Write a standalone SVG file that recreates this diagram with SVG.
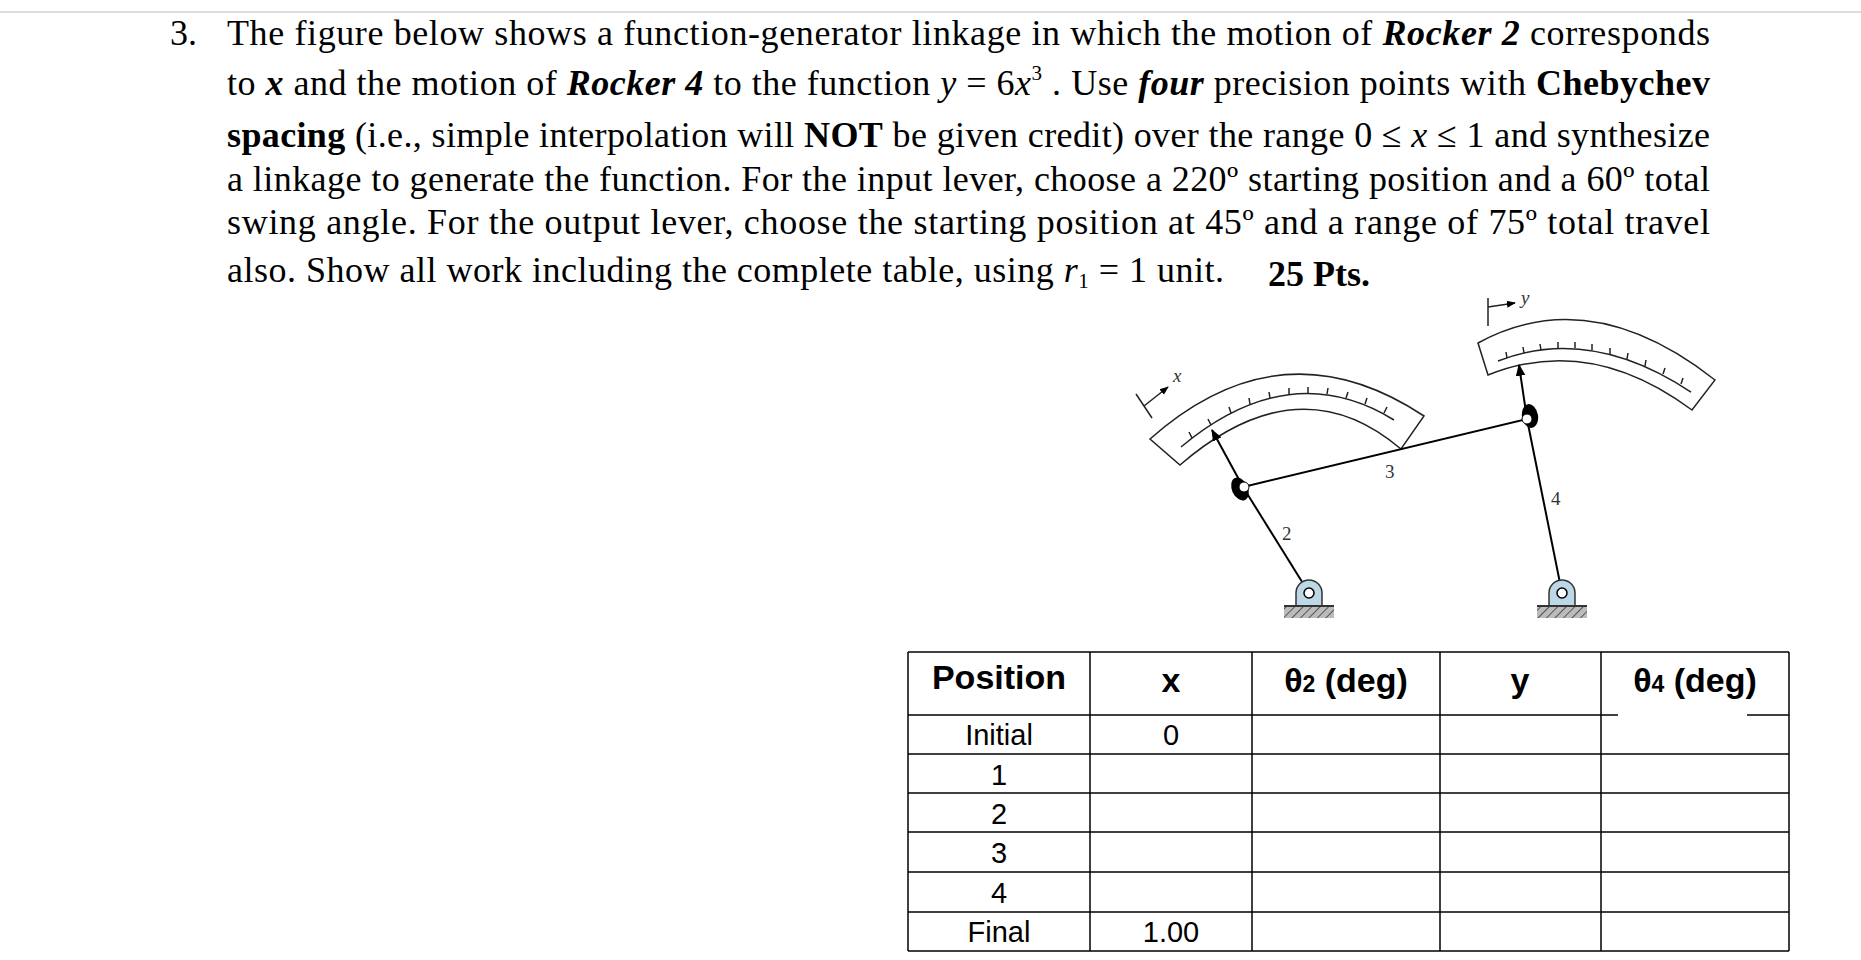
<svg xmlns="http://www.w3.org/2000/svg" width="1861" height="960" viewBox="0 0 1861 960">
<style>
.p{font-family:"Liberation Serif","Times New Roman",serif;font-size:36px;fill:#000}
.b{font-weight:bold}.i{font-style:italic}
.t{font-family:"Liberation Sans",Arial,sans-serif;font-size:29px;fill:#000;text-anchor:middle}
.h{font-weight:bold;font-size:34px}
.ln{stroke:#000;stroke-width:2;fill:none}
.thin{stroke:#222;stroke-width:1.5;fill:none}
.lbl{font-family:"Liberation Serif",serif;font-size:19px;fill:#333}
.grid{stroke:#000;stroke-width:1.5}
</style>
<defs>
<marker id="ar" viewBox="0 0 10 10" refX="9" refY="5" markerWidth="6" markerHeight="6" orient="auto"><path d="M0,1 L10,5 L0,9 z" fill="#000"/></marker>
<pattern id="hat" width="6" height="6" patternUnits="userSpaceOnUse" patternTransform="rotate(45)"><rect width="6" height="6" fill="#bbb"/><line x1="0" y1="0" x2="0" y2="6" stroke="#555" stroke-width="2"/></pattern>
</defs>
<rect width="1861" height="960" fill="#fff"/>
<line x1="0" y1="12" x2="1861" y2="12" stroke="#d0d0d0" stroke-width="1.5"/>

<g id="problem-text">
<text class="p" x="170" y="45">3.</text>
<text class="p" x="227" y="45" textLength="1483" lengthAdjust="spacing">The figure below shows a function-generator linkage in which the motion of <tspan class="b i">Rocker 2</tspan> corresponds</text>
<text class="p" x="227" y="95" textLength="1483" lengthAdjust="spacing">to <tspan class="b i">x</tspan> and the motion of <tspan class="b i">Rocker 4</tspan> to the function  <tspan class="i">y</tspan> = 6<tspan class="i">x</tspan><tspan font-size="21" dy="-15">3</tspan><tspan dy="15"> . Use </tspan><tspan class="b i">four</tspan> precision points with <tspan class="b">Chebychev</tspan></text>
<text class="p" x="227" y="147" textLength="1483" lengthAdjust="spacing"><tspan class="b">spacing</tspan> (i.e., simple interpolation will <tspan class="b">NOT</tspan> be given credit) over the range  0 ≤ <tspan class="i">x</tspan> ≤ 1 and synthesize</text>
<text class="p" x="227" y="191" textLength="1483" lengthAdjust="spacing">a linkage to generate the function. For the input lever, choose a 220º starting position and a 60º total</text>
<text class="p" x="227" y="234" textLength="1483" lengthAdjust="spacing">swing angle. For the output lever, choose the starting position at 45º and a range of 75º total travel</text>
<text class="p" x="227" y="282" textLength="997" lengthAdjust="spacing">also. Show all work including the complete table, using  <tspan class="i">r</tspan><tspan font-size="21" dy="6">1</tspan><tspan dy="-6"> = 1  unit.</tspan></text>
<text class="p b" x="1268" y="286" font-size="33">25 Pts.</text>
</g>

<g id="scale-x">
<path class="thin" d="M1150,439 Q1282,322 1424,416 L1401,449 Q1299,362 1180,465 Z" fill="#fff"/>
<path class="thin" d="M1181,447 Q1290,356 1394,420"/>
<g class="thin">
<line x1="1192" y1="438" x2="1189" y2="432"/><line x1="1211" y1="425" x2="1208" y2="419"/><line x1="1231" y1="413" x2="1229" y2="407"/><line x1="1250" y1="404" x2="1249" y2="398"/><line x1="1270" y1="398" x2="1269" y2="392"/><line x1="1289" y1="394" x2="1289" y2="388"/><line x1="1308" y1="393" x2="1308" y2="387"/><line x1="1327" y1="394" x2="1328" y2="388"/><line x1="1346" y1="398" x2="1348" y2="392"/><line x1="1365" y1="404" x2="1367" y2="398"/><line x1="1384" y1="413" x2="1387" y2="407"/>
</g>
<line class="thin" x1="1136" y1="394" x2="1152" y2="418"/>
<line class="thin" x1="1144" y1="406" x2="1168" y2="387" marker-end="url(#ar)"/>
<text class="lbl" x="1173" y="382" font-style="italic">x</text>
</g>

<g id="scale-y">
<path class="thin" d="M1478,343 Q1590,282 1715,380 L1692,410 Q1590,334 1488,375 Z" fill="#fff"/>
<path class="thin" d="M1498,361 Q1590,325 1691,392"/>
<g class="thin">
<line x1="1507" y1="358" x2="1506" y2="352"/><line x1="1524" y1="353" x2="1523" y2="347"/><line x1="1541" y1="350" x2="1540" y2="344"/><line x1="1558" y1="348" x2="1558" y2="342"/><line x1="1575" y1="348" x2="1575" y2="342"/><line x1="1592" y1="350" x2="1592" y2="344"/><line x1="1610" y1="354" x2="1610" y2="348"/><line x1="1627" y1="359" x2="1628" y2="353"/><line x1="1645" y1="366" x2="1646" y2="360"/><line x1="1663" y1="374" x2="1665" y2="368"/><line x1="1681" y1="384" x2="1683" y2="378"/>
</g>
<line class="thin" x1="1488" y1="298" x2="1488" y2="326"/>
<line class="thin" x1="1488" y1="307" x2="1515" y2="303" marker-end="url(#ar)"/>
<text class="lbl" x="1521" y="304" font-style="italic">y</text>
</g>

<g id="connectors">
<line class="ln" x1="1309" y1="593" x2="1243" y2="487"/>
<line class="ln" x1="1243" y1="487" x2="1212" y2="430" marker-end="url(#ar)"/>
<line class="ln" x1="1243" y1="487" x2="1527" y2="419"/>
<line class="ln" x1="1562" y1="593" x2="1527" y2="419"/>
<line class="ln" x1="1527" y1="419" x2="1519" y2="365" marker-end="url(#ar)"/>
</g>

<g id="link-labels">
<text class="lbl" x="1385" y="478">3</text>
<text class="lbl" x="1282" y="540">2</text>
<text class="lbl" x="1551" y="505">4</text>
</g>

<g id="joint-2"><ellipse cx="1240" cy="489" rx="8" ry="12" fill="#000" transform="rotate(-25 1240 489)"/><circle cx="1244" cy="487" r="5" fill="#fff" stroke="#000"/></g>
<g id="joint-4"><ellipse cx="1530" cy="416" rx="8" ry="12" fill="#000" transform="rotate(-10 1530 416)"/><circle cx="1527" cy="419" r="5" fill="#fff" stroke="#000"/></g>

<g id="ground-2">
<path d="M1296,606 L1296,593 A13,13 0 0 1 1322,593 L1322,606 Z" fill="#bcd7e6" stroke="#333" stroke-width="1.5"/>
<circle cx="1309" cy="593" r="5" fill="#fff" stroke="#000" stroke-width="1.5"/>
<line x1="1284" y1="606" x2="1334" y2="606" stroke="#333" stroke-width="2"/>
<rect x="1284" y="607" width="50" height="11" fill="url(#hat)"/>
</g>
<g id="ground-4">
<path d="M1549,606 L1549,593 A13,13 0 0 1 1575,593 L1575,606 Z" fill="#bcd7e6" stroke="#333" stroke-width="1.5"/>
<circle cx="1562" cy="593" r="5" fill="#fff" stroke="#000" stroke-width="1.5"/>
<line x1="1537" y1="606" x2="1587" y2="606" stroke="#333" stroke-width="2"/>
<rect x="1537" y="607" width="50" height="11" fill="url(#hat)"/>
</g>

<g id="table">
<g class="grid">
<line x1="908" y1="652" x2="1789" y2="652"/>
<line x1="908" y1="715" x2="1618" y2="715"/><line x1="1747" y1="715" x2="1789" y2="715"/>
<line x1="908" y1="754" x2="1789" y2="754"/>
<line x1="908" y1="793" x2="1789" y2="793"/>
<line x1="908" y1="832" x2="1789" y2="832"/>
<line x1="908" y1="872" x2="1789" y2="872"/>
<line x1="908" y1="912" x2="1789" y2="912"/>
<line x1="908" y1="951" x2="1789" y2="951"/>
<line x1="908" y1="652" x2="908" y2="951"/>
<line x1="1090" y1="652" x2="1090" y2="951"/>
<line x1="1252" y1="652" x2="1252" y2="951"/>
<line x1="1440" y1="652" x2="1440" y2="951"/>
<line x1="1601" y1="652" x2="1601" y2="951"/>
<line x1="1789" y1="652" x2="1789" y2="951"/>
</g>
<text class="t h" x="999" y="689">Position</text>
<text class="t h" x="1171" y="692">x</text>
<text class="t h" x="1346" y="692">θ<tspan font-size="23">2</tspan> (deg)</text>
<text class="t h" x="1520" y="692">y</text>
<text class="t h" x="1695" y="692">θ<tspan font-size="23">4</tspan> (deg)</text>
<text class="t" x="999" y="745">Initial</text>
<text class="t" x="1171" y="745">0</text>
<text class="t" x="999" y="785">1</text>
<text class="t" x="999" y="824">2</text>
<text class="t" x="999" y="863">3</text>
<text class="t" x="999" y="903">4</text>
<text class="t" x="999" y="942">Final</text>
<text class="t" x="1171" y="942">1.00</text>
</g>
</svg>
